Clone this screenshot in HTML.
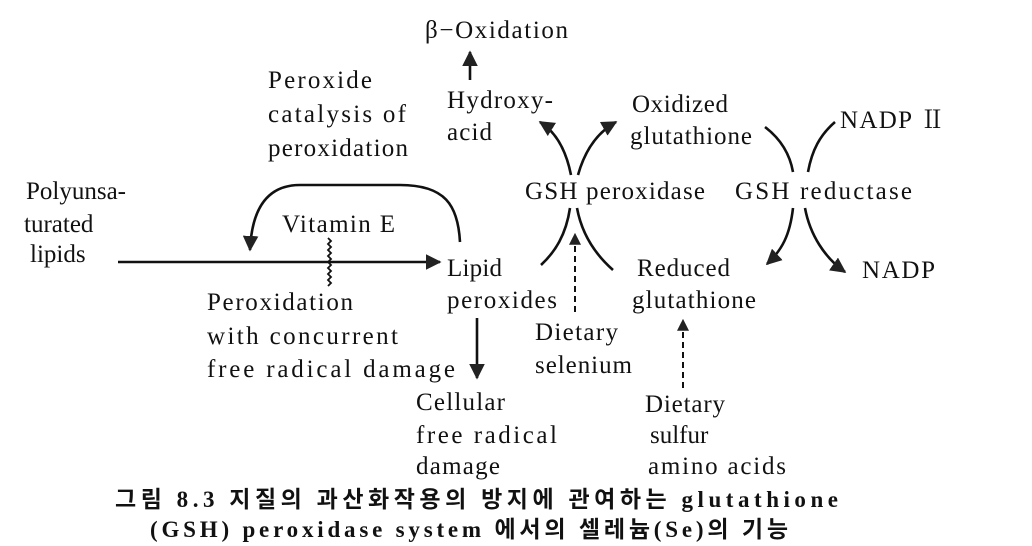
<!DOCTYPE html>
<html><head><meta charset="utf-8"><style>
html,body{margin:0;padding:0;background:#fff;}
svg{display:block;}
text{font-family:"Liberation Serif","Noto Serif CJK SC",serif;font-size:25px;fill:#111;}
.c{font-family:"Liberation Serif","Noto Sans CJK KR",serif;font-weight:bold;font-size:23px;}
</style></head><body>
<svg width="1032" height="546" viewBox="0 0 1032 546" xmlns="http://www.w3.org/2000/svg">
<defs>
<marker id="a" viewBox="0 0 10 10" refX="9" refY="5" markerWidth="6" markerHeight="6" orient="auto-start-reverse"><path d="M0,0 L10,5 L0,10 z" fill="#222"/></marker>
</defs>
<rect width="1032" height="546" fill="#fff"/>
<g stroke="#111" stroke-width="2.6" fill="none">
<path d="M470 80 L470 52" marker-end="url(#a)"/>
<path d="M118 262 L440 262" marker-end="url(#a)"/>
<path d="M328 238 l3 3 l-3 3 l3 3 l-3 3 l3 3 l-3 3 l3 3 l-3 3 l3 3 l-3 3 l3 3 l-3 3 l3 3 l-3 3 l3 3 l-3 3" stroke-width="1.8"/>
<path d="M460 242 C458 205 445 185 400 185 L300 185 C270 185 252 205 250 250" marker-end="url(#a)"/>
<path d="M477 318 L477 378" marker-end="url(#a)"/>
<path d="M571 175 C566 150 556 132 540 122" marker-end="url(#a)"/>
<path d="M578 175 C585 150 598 132 616 122" marker-end="url(#a)"/>
<path d="M570 208 C566 235 555 252 541 265"/>
<path d="M577 208 C582 235 596 255 613 270"/>
<path d="M575 312 L575 234" stroke-dasharray="6,4" stroke-width="2" marker-end="url(#a)"/>
<path d="M683 388 L683 320" stroke-dasharray="6,4" stroke-width="2" marker-end="url(#a)"/>
<path d="M765 127 C782 140 790 155 793 172"/>
<path d="M808 172 C812 150 820 135 835 122"/>
<path d="M793 208 C790 235 782 250 767 264" marker-end="url(#a)"/>
<path d="M805 208 C810 235 825 258 845 272" marker-end="url(#a)"/>
</g>
<text x="425" y="38" textLength="143" lengthAdjust="spacing">β−Oxidation</text>
<text x="268" y="88" textLength="104" lengthAdjust="spacing">Peroxide</text>
<text x="268" y="122" textLength="138" lengthAdjust="spacing">catalysis of</text>
<text x="268" y="156" textLength="140" lengthAdjust="spacing">peroxidation</text>
<text x="447" y="108" textLength="106" lengthAdjust="spacing">Hydroxy-</text>
<text x="447" y="140" textLength="45" lengthAdjust="spacing">acid</text>
<text x="632" y="112" textLength="96" lengthAdjust="spacing">Oxidized</text>
<text x="630" y="144" textLength="122" lengthAdjust="spacing">glutathione</text>
<text x="840" y="128" textLength="105" lengthAdjust="spacing">NADP Ⅱ</text>
<text x="525" y="199" textLength="180" lengthAdjust="spacing">GSH peroxidase</text>
<text x="735" y="199" textLength="177" lengthAdjust="spacing">GSH reductase</text>
<text x="26" y="199">Polyunsa-</text>
<text x="24" y="232">turated</text>
<text x="30" y="262">lipids</text>
<text x="282" y="232" textLength="113" lengthAdjust="spacing">Vitamin E</text>
<text x="447" y="276" textLength="55" lengthAdjust="spacing">Lipid</text>
<text x="447" y="308" textLength="110" lengthAdjust="spacing">peroxides</text>
<text x="637" y="276" textLength="93" lengthAdjust="spacing">Reduced</text>
<text x="632" y="308" textLength="124" lengthAdjust="spacing">glutathione</text>
<text x="862" y="278" textLength="73" lengthAdjust="spacing">NADP</text>
<text x="207" y="310" textLength="146" lengthAdjust="spacing">Peroxidation</text>
<text x="207" y="344" textLength="191" lengthAdjust="spacing">with concurrent</text>
<text x="207" y="377" textLength="248" lengthAdjust="spacing">free radical damage</text>
<text x="535" y="340" textLength="83" lengthAdjust="spacing">Dietary</text>
<text x="535" y="373" textLength="97" lengthAdjust="spacing">selenium</text>
<text x="416" y="410" textLength="89" lengthAdjust="spacing">Cellular</text>
<text x="416" y="443" textLength="141" lengthAdjust="spacing">free radical</text>
<text x="416" y="474" textLength="84" lengthAdjust="spacing">damage</text>
<text x="645" y="412" textLength="80" lengthAdjust="spacing">Dietary</text>
<text x="650" y="443">sulfur</text>
<text x="648" y="474" textLength="138" lengthAdjust="spacing">amino acids</text>
<text class="c" x="115" y="507" textLength="723" lengthAdjust="spacing">그림 8.3 지질의 과산화작용의 방지에 관여하는 glutathione</text>
<text class="c" x="150" y="537" textLength="638" lengthAdjust="spacing">(GSH) peroxidase system 에서의 셀레늄(Se)의 기능</text>
</svg>
</body></html>
